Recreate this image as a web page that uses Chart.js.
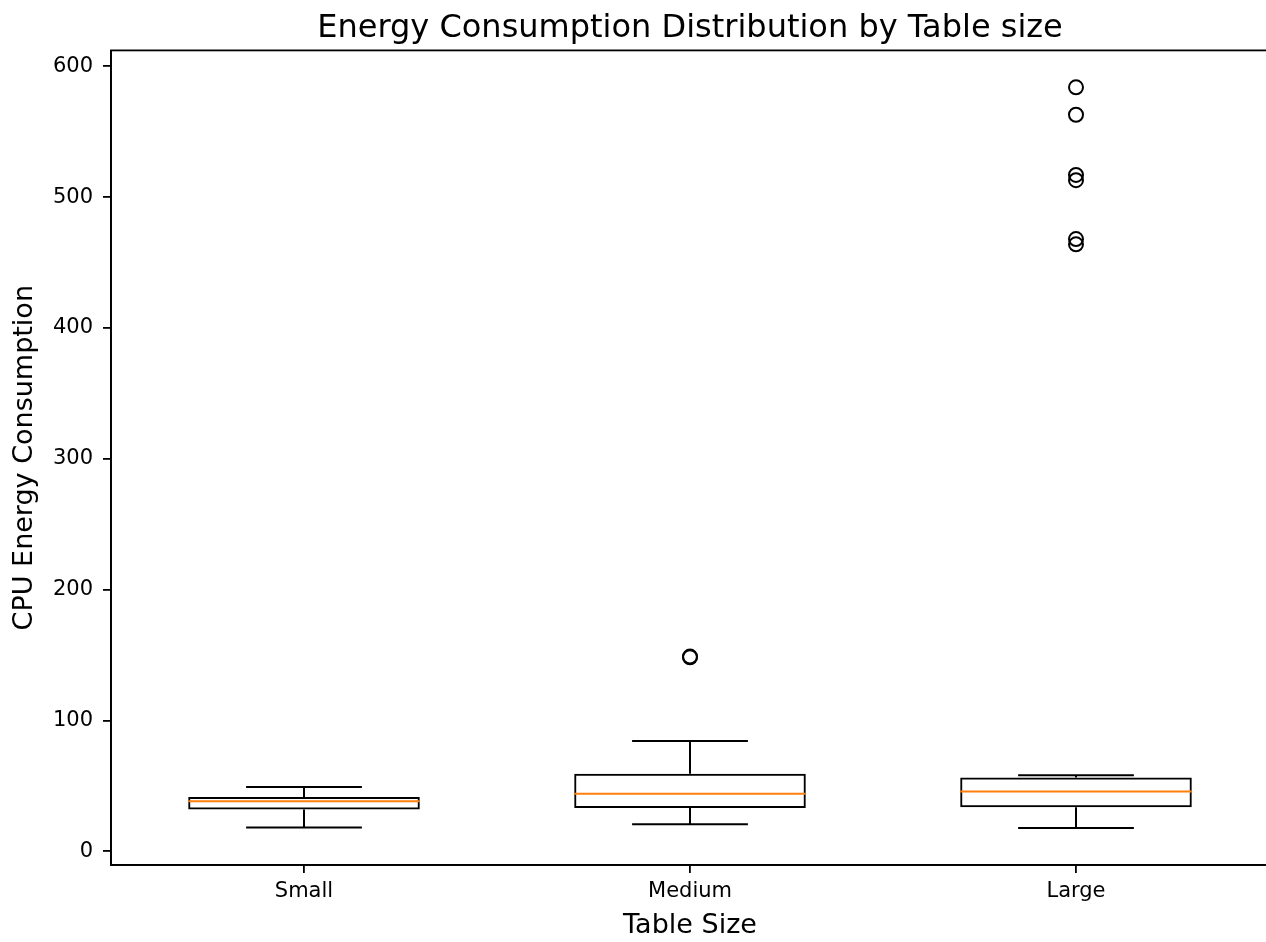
<!DOCTYPE html>
<html>
<head>
<meta charset="utf-8">
<title>Energy Consumption Distribution by Table size</title>
<script src="https://cdn.jsdelivr.net/npm/chart.js@4/dist/chart.umd.min.js"></script>
<style>
  html, body { margin: 0; padding: 0; overflow: hidden; background: #fff; }
  canvas { display: block; }
</style>
</head>
<body>
<canvas id="boxChart" width="1278" height="942"></canvas>
<script>
// Box plot summary per table size
const categories = ['Small', 'Medium', 'Large'];
const whiskerLow = [18.2, 20.7, 17.9];
const q1 = [32.0, 33.2, 33.7];
const median = [38.3, 44.1, 45.7];
const q3 = [41.5, 59.3, 56.4];
const whiskerHigh = [49.3, 84.3, 58.2];
const mediumOutliers = [148.9, 148.3];
const largeOutliers = [584, 563, 517, 513, 468, 464];
const yTicks = [0, 100, 200, 300, 400, 500, 600];

const font = 'DejaVu Sans';

// whiskers, caps and medians drawn on top of the floating bars
const boxPlotLines = {
    id: 'boxPlotLines',
    afterDatasetsDraw(chart) {
        const ctx = chart.ctx;
        const x = chart.scales.x;
        const y = chart.scales.y;
        const bars = chart.getDatasetMeta(0).data;
        const line = (x1, y1, x2, y2) => {
            ctx.beginPath();
            ctx.moveTo(x1, y1);
            ctx.lineTo(x2, y2);
            ctx.stroke();
        };
        ctx.save();
        ctx.lineWidth = 2;
        bars.forEach((bar, i) => {
            const cx = x.getPixelForValue(i);
            const half = bar.width / 2;
            const cap = bar.width / 4;
            ctx.strokeStyle = '#000';
            line(cx, y.getPixelForValue(q1[i]), cx, y.getPixelForValue(whiskerLow[i]));
            line(cx, y.getPixelForValue(q3[i]), cx, y.getPixelForValue(whiskerHigh[i]));
            line(cx - cap, y.getPixelForValue(whiskerLow[i]), cx + cap, y.getPixelForValue(whiskerLow[i]));
            line(cx - cap, y.getPixelForValue(whiskerHigh[i]), cx + cap, y.getPixelForValue(whiskerHigh[i]));
            ctx.strokeStyle = '#ff7f0e';
            line(cx - half, y.getPixelForValue(median[i]), cx + half, y.getPixelForValue(median[i]));
        });
        ctx.restore();
    },
    afterDraw(chart) {
        // matplotlib style frame round the axes
        const {ctx, chartArea} = chart;
        ctx.save();
        ctx.strokeStyle = '#000';
        ctx.lineWidth = 1.8;
        ctx.strokeRect(chartArea.left, chartArea.top, chartArea.right - chartArea.left, chartArea.bottom - chartArea.top);
        ctx.restore();
    }
};

const outlierPoints = [
    ...mediumOutliers.map(v => ({x: 'Medium', y: v})),
    ...largeOutliers.map(v => ({x: 'Large', y: v}))
];

const ctx = document.getElementById('boxChart').getContext('2d');
new Chart(ctx, {
    type: 'bar',
    data: {
        labels: categories,
        datasets: [{
            label: 'IQR',
            data: categories.map((c, i) => [q1[i], q3[i]]),
            backgroundColor: 'rgba(0,0,0,0)',
            borderColor: '#000',
            borderWidth: 2,
            borderSkipped: false,
            barPercentage: 0.6,
            categoryPercentage: 1.0
        }, {
            type: 'scatter',
            label: 'Outliers',
            data: outlierPoints,
            pointStyle: 'circle',
            pointRadius: 7,
            pointBorderWidth: 2,
            pointBorderColor: '#000',
            pointBackgroundColor: 'rgba(0,0,0,0)'
        }]
    },
    options: {
        responsive: false,
        animation: false,
        layout: {
            padding: { left: 0, right: 1, top: 0, bottom: 0 }
        },
        plugins: {
            legend: { display: false },
            tooltip: { enabled: false },
            title: {
                display: true,
                fullSize: false,
                text: 'Energy Consumption Distribution by Table size',
                color: '#000',
                font: { family: font, size: 32, weight: 'normal' },
                padding: { top: 9, bottom: 3 }
            }
        },
        scales: {
            x: {
                type: 'category',
                offset: true,
                grid: {
                    display: true,
                    offset: false,
                    drawOnChartArea: false,
                    drawTicks: true,
                    tickLength: 8,
                    color: '#000',
                    lineWidth: 1.8
                },
                border: { display: true, color: '#000', width: 1.8 },
                ticks: {
                    color: '#000',
                    padding: 6,
                    font: { family: font, size: 21 }
                },
                title: {
                    display: true,
                    text: 'Table Size',
                    color: '#000',
                    font: { family: font, size: 27 },
                    padding: { top: 0, bottom: 0 }
                },
                afterFit(scale) { scale.height = 77; }
            },
            y: {
                type: 'linear',
                min: -10.4,
                max: 612.2,
                grid: {
                    display: true,
                    drawOnChartArea: false,
                    drawTicks: true,
                    tickLength: 8,
                    color: '#000',
                    lineWidth: 1.8
                },
                border: { display: true, color: '#000', width: 1.8 },
                ticks: {
                    color: '#000',
                    padding: 10,
                    font: { family: font, size: 21 }
                },
                afterBuildTicks(scale) {
                    scale.ticks = yTicks.map(v => ({ value: v }));
                },
                title: {
                    display: true,
                    text: 'CPU Energy Consumption',
                    color: '#000',
                    font: { family: font, size: 27 },
                    padding: { top: 9, bottom: 0 }
                },
                afterFit(scale) { scale.width = 111; }
            }
        }
    },
    plugins: [boxPlotLines]
});
</script>
</body>
</html>
